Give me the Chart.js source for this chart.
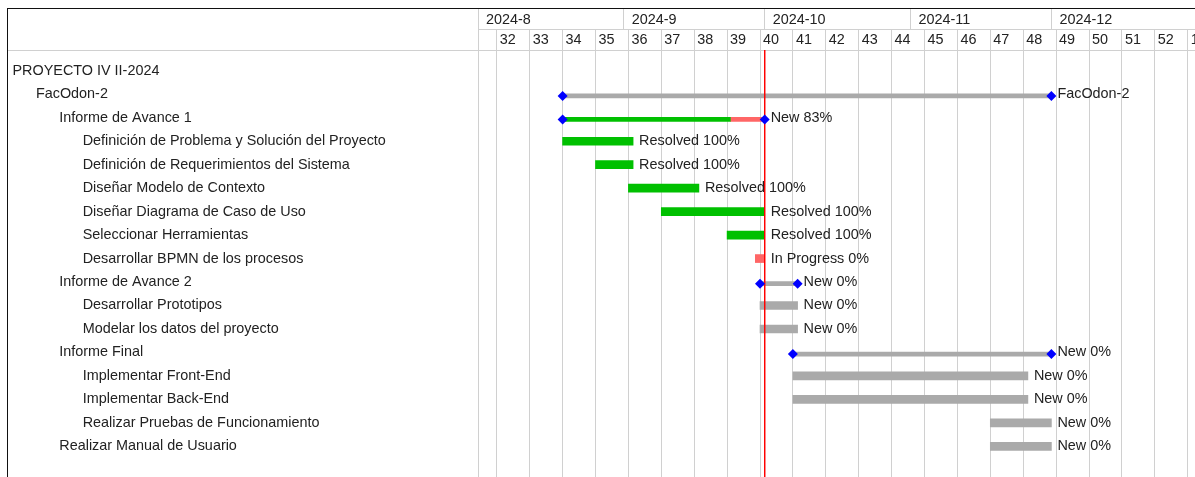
<!DOCTYPE html>
<html>
<head>
<meta charset="utf-8">
<script src="https://cdn.jsdelivr.net/npm/chart.js@4.4.1/dist/chart.umd.min.js"></script>
<style>
  html, body { margin: 0; padding: 0; background: #fff; overflow: hidden; }
  #wrap { position: relative; width: 1195px; height: 477px; }
  #gantt { position: absolute; left: 0; top: 0; }
  #frame { position: absolute; left: 7px; top: 8px; width: 1300px; height: 600px;
           border-left: 1px solid #111; border-top: 1px solid #111; pointer-events: none; }
  #subjHdr { position: absolute; left: 8px; top: 9px; width: 470px; height: 41px;
             border-bottom: 1px solid #d0d0d0; pointer-events: none; }
</style>
</head>
<body>
<div id="wrap">
  <canvas id="gantt" width="1195" height="477"></canvas>
  <div id="subjHdr"></div>
  <div id="frame"></div>
</div>
<script>
// gantt.js — PROYECTO IV II-2024, barras por tarea con semanas y meses arriba
const rowLabels = [
  'PROYECTO IV II-2024',
  'FacOdon-2',
  'Informe de Avance 1',
  'Definición de Problema y Solución del Proyecto',
  'Definición de Requerimientos del Sistema',
  'Diseñar Modelo de Contexto',
  'Diseñar Diagrama de Caso de Uso',
  'Seleccionar Herramientas',
  'Desarrollar BPMN de los procesos',
  'Informe de Avance 2',
  'Desarrollar Prototipos',
  'Modelar los datos del proyecto',
  'Informe Final',
  'Implementar Front-End',
  'Implementar Back-End',
  'Realizar Pruebas de Funcionamiento',
  'Realizar Manual de Usuario'
];
const rowLevels = [0, 1, 2, 3, 3, 3, 3, 3, 3, 2, 3, 3, 2, 3, 3, 3, 2];
const rowKinds  = ['project', 'version', 'parent', 'task', 'task', 'task', 'task', 'task', 'task',
                   'parent', 'task', 'task', 'parent', 'task', 'task', 'task', 'task'];
const startDates = [null, '2024-08-19', '2024-08-19', '2024-08-19', '2024-08-26', '2024-09-02',
                    '2024-09-09', '2024-09-23', '2024-09-29', '2024-09-30', '2024-09-30', '2024-09-30',
                    '2024-10-07', '2024-10-07', '2024-10-07', '2024-11-18', '2024-11-18'];
const dueDates   = [null, '2024-11-30', '2024-09-30', '2024-09-02', '2024-09-02', '2024-09-16',
                    '2024-09-30', '2024-09-30', '2024-09-30', '2024-10-07', '2024-10-07', '2024-10-07',
                    '2024-11-30', '2024-11-25', '2024-11-25', '2024-11-30', '2024-11-30'];
const doneRatios = [null, 0, 83, 100, 100, 100, 100, 100, 0, 0, 0, 0, 0, 0, 0, 0, 0];
const barLabels  = [null, 'FacOdon-2', 'New 83%', 'Resolved 100%', 'Resolved 100%', 'Resolved 100%',
                    'Resolved 100%', 'Resolved 100%', 'In Progress 0%', 'New 0%', 'New 0%', 'New 0%',
                    'New 0%', 'New 0%', 'New 0%', 'New 0%', 'New 0%'];

const monthStarts = ['2024-08-01', '2024-09-01', '2024-10-01', '2024-11-01', '2024-12-01'];
const monthLabels = ['2024-8', '2024-9', '2024-10', '2024-11', '2024-12'];
const weekStarts = ['2024-08-01', '2024-08-05', '2024-08-12', '2024-08-19', '2024-08-26',
                    '2024-09-02', '2024-09-09', '2024-09-16', '2024-09-23', '2024-09-30',
                    '2024-10-07', '2024-10-14', '2024-10-21', '2024-10-28',
                    '2024-11-04', '2024-11-11', '2024-11-18', '2024-11-25',
                    '2024-12-02', '2024-12-09', '2024-12-16', '2024-12-23', '2024-12-30'];
const weekLabels = ['', '32', '33', '34', '35', '36', '37', '38', '39', '40', '41', '42', '43', '44',
                    '45', '46', '47', '48', '49', '50', '51', '52', '1'];
const chartFrom = '2024-08-01';
const todayDate = '2024-09-30';

// geometría
const W = 1195, H = 477;
const DAY_PX = 4.7, ROW_PX = 23.47, FIRST_ROW_Y = 70.8;
const LEFT_PAD = 12.5, INDENT = 23.4, PANE_RIGHT = 478;
const HDR_TOP = 8, HDR_ROW = 21, CHART_TOP = HDR_TOP + 2 * HDR_ROW;
const PARENT_SHIFT = 0.07;
const GRID = '#d0d0d0', TXT = '#222';
const FONT = '"Liberation Sans", Arial, sans-serif';
const FSIZE = 14.4;

function day(s) {
  const p = s.split('-').map(Number), b = chartFrom.split('-').map(Number);
  return (Date.UTC(p[0], p[1] - 1, p[2]) - Date.UTC(b[0], b[1] - 1, b[2])) / 864e5;
}

const today = day(todayDate);
const yMin = -(FIRST_ROW_Y - CHART_TOP) / ROW_PX;
const yMax = yMin + (H - CHART_TOP) / ROW_PX;
const xMax = (W - PANE_RIGHT) / DAY_PX;

// segmentos hecho / atrasado / pendiente
const seg = { leaf: { done: [], late: [], todo: [] }, parent: { done: [], late: [], todo: [] } };
const markers = [];
rowKinds.forEach((k, i) => {
  if (k === 'project') return;
  const s = day(startDates[i]), e = day(dueDates[i]) + 1;
  const doneEnd = s + (e - s) * doneRatios[i] / 100;
  const lateEnd = (k !== 'version' && s < today) ? Math.min(today + 1, e) : doneEnd;
  const g = k === 'task' ? seg.leaf : seg.parent;
  const y = k === 'task' ? i : i + PARENT_SHIFT;
  if (doneEnd > s) g.done.push({ x: [s, doneEnd], y });
  if (lateEnd > doneEnd) g.late.push({ x: [doneEnd, lateEnd], y });
  const todoFrom = Math.max(doneEnd, lateEnd);
  if (e > todoFrom) g.todo.push({ x: [todoFrom, e], y });
  if (k !== 'task') markers.push({ x: s, y }, { x: e, y });
});

function bar(data, color, thick) {
  return { type: 'bar', data, backgroundColor: color, barThickness: thick, grouped: false,
           borderWidth: 0, xAxisID: 'x', yAxisID: 'y' };
}

function noPad(ax) {
  ax.paddingTop = 0; ax.paddingBottom = 0; ax.paddingLeft = 0; ax.paddingRight = 0;
}

// un eje por nivel de sangría, etiquetas alineadas a la izquierda
function levelAxis(lvl, width, weight) {
  return {
    type: 'linear', position: 'left', reverse: true, min: yMin, max: yMax, bounds: 'data',
    offset: false, weight,
    grid: { display: false }, border: { display: false },
    afterBuildTicks: ax => {
      ax.ticks = rowLevels.map((l, i) => ({ value: i, l })).filter(t => t.l === lvl).map(t => ({ value: t.value }));
    },
    afterFit: ax => { ax.width = width; noPad(ax); },
    ticks: { mirror: true, padding: -width, autoSkip: false, color: TXT,
             callback: v => rowLabels[v] }
  };
}

const barText = {
  id: 'barText',
  afterDatasetsDraw(chart) {
    const { ctx, scales: { x, y } } = chart;
    ctx.save();
    ctx.font = FSIZE + 'px ' + FONT;
    ctx.fillStyle = TXT;
    ctx.textBaseline = 'middle';
    ctx.textAlign = 'left';
    barLabels.forEach((t, i) => {
      if (!t) return;
      ctx.fillText(t, x.getPixelForValue(day(dueDates[i]) + 1) + 6, y.getPixelForValue(i));
    });
    ctx.restore();
  }
};

Chart.defaults.font.family = FONT;
Chart.defaults.font.size = FSIZE;
Chart.defaults.color = TXT;

new Chart(document.getElementById('gantt'), {
  type: 'bar',
  data: {
    datasets: [
      { type: 'scatter', data: markers, pointStyle: 'rectRot', pointRadius: 5, pointHoverRadius: 5,
        backgroundColor: '#0000ff', borderWidth: 0, xAxisID: 'x', yAxisID: 'y' },
      { type: 'line', data: [{ x: today + 1, y: yMin }, { x: today + 1, y: yMax }],
        borderColor: '#ff0000', borderWidth: 1, pointRadius: 0, pointHoverRadius: 0,
        xAxisID: 'x', yAxisID: 'y' },
      bar(seg.leaf.done, '#00c000', 8),
      bar(seg.leaf.late, '#ff6666', 8),
      bar(seg.leaf.todo, '#aaaaaa', 8),
      bar(seg.parent.done, '#00c000', 4),
      bar(seg.parent.late, '#ff6666', 4),
      bar(seg.parent.todo, '#aaaaaa', 4)
    ]
  },
  options: {
    indexAxis: 'y',
    responsive: false,
    animation: false,
    events: [],
    layout: { autoPadding: false, padding: { left: LEFT_PAD, top: HDR_TOP, right: 0, bottom: 0 } },
    plugins: { legend: { display: false }, tooltip: { enabled: false } },
    scales: {
      x: {
        type: 'linear', position: 'top', min: 0, max: xMax, bounds: 'data', offset: false, weight: 0,
        afterBuildTicks: ax => { ax.ticks = weekStarts.map(d => ({ value: day(d) })); },
        afterFit: ax => { ax.height = HDR_ROW; noPad(ax); },
        grid: { color: GRID, tickLength: HDR_ROW },
        border: { display: true, color: GRID },
        ticks: { autoSkip: false, maxRotation: 0, align: 'start', labelOffset: 3, padding: -19.6,
                 color: TXT, callback: (v, i) => weekLabels[i] }
      },
      xm: {
        type: 'linear', axis: 'x', position: 'top', min: 0, max: xMax, bounds: 'data', offset: false, weight: 1,
        afterBuildTicks: ax => { ax.ticks = monthStarts.map(d => ({ value: day(d) })); },
        afterFit: ax => { ax.height = HDR_ROW; noPad(ax); },
        grid: { color: GRID, drawOnChartArea: false, tickLength: HDR_ROW },
        border: { display: true, color: GRID },
        ticks: { autoSkip: false, maxRotation: 0, align: 'start', labelOffset: 8, padding: -20.8,
                 color: TXT, callback: (v, i) => monthLabels[i] }
      },
      y0: levelAxis(0, INDENT, 3),
      y1: levelAxis(1, INDENT, 2),
      y2: levelAxis(2, INDENT, 1),
      y: levelAxis(3, PANE_RIGHT - LEFT_PAD - 3 * INDENT, 0)
    }
  },
  plugins: [barText]
});
</script>
</body>
</html>
